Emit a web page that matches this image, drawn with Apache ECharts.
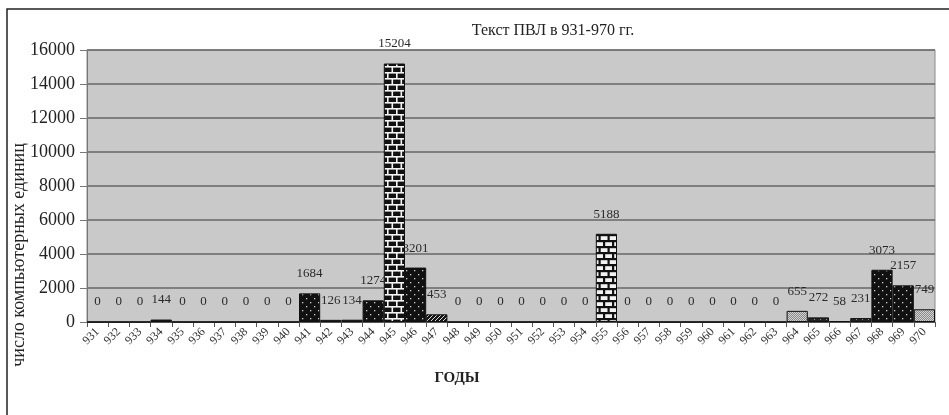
<!DOCTYPE html>
<html><head><meta charset="utf-8">
<script src="https://cdn.jsdelivr.net/npm/echarts@6/dist/echarts.min.js"></script>
<style>html,body{margin:0;padding:0;background:#fff}#c{width:949px;height:415px}</style>
</head><body><div id="c"></div>
<script>
// ---- data ----
const years = ['931','932','933','934','935','936','937','938','939','940',
  '941','942','943','944','945','946','947','948','949','950',
  '951','952','953','954','955','956','957','958','959','960',
  '961','962','963','964','965','966','967','968','969','970'];
const values = [0,0,0,144,0,0,0,0,0,0,
  1684,126,134,1274,15204,3201,453,0,0,0,
  0,0,0,0,5188,0,0,0,0,0,
  0,0,0,655,272,58,231,3073,2157,749];
const yMin = 0, yMax = 16000, yStep = 2000;
const chartTitle = 'Текст ПВЛ в 931-970 гг.';
const yName = 'число компьютерных единиц';
const xName = 'ГОДЫ';

// ---- styles (fill pattern per year) ----
const patternByYear = {
  '934':'solid','941':'dots','942':'solid','943':'solid','944':'dots',
  '945':'brickDark','946':'dots','947':'stripes','955':'brickLight',
  '964':'hatch','965':'darkDots','966':'solid','967':'darkDots',
  '968':'dots','969':'dots','970':'hatch'
};

function makePattern(kind){
  const c = document.createElement('canvas');
  let ctx;
  if (kind === 'brickDark' || kind === 'brickLight') {
    c.width = 18; c.height = 12; ctx = c.getContext('2d');
    const bg = kind === 'brickDark' ? '#111' : '#f2f2f2';
    const fg = kind === 'brickDark' ? '#f4f4f4' : '#111';
    ctx.fillStyle = bg; ctx.fillRect(0,0,18,12);
    ctx.fillStyle = fg;
    const lw = kind === 'brickDark' ? 1.6 : 2.2;
    ctx.fillRect(0,0,18,lw); ctx.fillRect(0,6,18,lw);
    ctx.fillRect(0,0,lw,6); ctx.fillRect(9,0,lw,6);
    ctx.fillRect(4.5,6,lw,6); ctx.fillRect(13.5,6,lw,6);
  } else if (kind === 'dots') {
    c.width = 8; c.height = 8; ctx = c.getContext('2d');
    ctx.fillStyle = '#111'; ctx.fillRect(0,0,8,8);
    ctx.fillStyle = '#cfcfcf';
    ctx.fillRect(2,2,1.3,1.3); ctx.fillRect(6,6,1.3,1.3);
  } else if (kind === 'darkDots') {
    c.width = 6; c.height = 4; ctx = c.getContext('2d');
    ctx.fillStyle = '#222'; ctx.fillRect(0,0,6,4);
    ctx.fillStyle = '#999'; ctx.fillRect(1,1,1,1); ctx.fillRect(4,3,1,1);
  } else if (kind === 'stripes') {
    c.width = 4; c.height = 4; ctx = c.getContext('2d');
    ctx.fillStyle = '#151515'; ctx.fillRect(0,0,4,4);
    ctx.strokeStyle = '#ddd'; ctx.lineWidth = 1;
    ctx.beginPath(); ctx.moveTo(0,4); ctx.lineTo(4,0); ctx.stroke();
  } else if (kind === 'hatch') {
    c.width = 2; c.height = 2; ctx = c.getContext('2d');
    ctx.fillStyle = '#8a8a8a'; ctx.fillRect(0,0,2,2);
    ctx.fillStyle = '#d2d2d2'; ctx.fillRect(0,0,1,1); ctx.fillRect(1,1,1,1);
  } else {
    return '#111';
  }
  return { image: c, repeat: 'repeat' };
}

const serif = '"Liberation Serif", "DejaVu Serif", serif';
const barData = values.map((v, i) => ({
  value: v,
  itemStyle: { color: makePattern(patternByYear[years[i]] || 'solid') }
}));

const chart = echarts.init(document.getElementById('c'));
chart.setOption({
  animation: false,
  backgroundColor: '#fff',
  grid: { left: 87, right: 14, top: 50, bottom: 93, show: true,
          backgroundColor: '#c9c9c9', borderColor: '#8a8a8a', borderWidth: 1 },
  xAxis: {
    type: 'category', data: years,
    axisLine: { lineStyle: { color: '#555', width: 1 } },
    axisTick: { show: true, alignWithLabel: false, length: 5, lineStyle: { color: '#555' } },
    axisLabel: { interval: 0, rotate: 45, margin: 8, fontSize: 12, color: '#333', fontFamily: serif }
  },
  yAxis: {
    type: 'value', min: yMin, max: yMax, interval: yStep,
    axisLine: { show: true, lineStyle: { color: '#777', width: 1 } },
    axisTick: { show: true, length: 7, lineStyle: { color: '#777' } },
    axisLabel: { fontSize: 18, color: '#222', fontFamily: serif, margin: 12,
                 formatter: v => String(v) },
    splitLine: { lineStyle: { color: '#666', width: 1.6 } }
  },
  series: [{
    type: 'bar', data: barData, barCategoryGap: '0%',
    itemStyle: { borderColor: '#111', borderWidth: 1 },
    label: { show: true, position: 'top', distance: 13, fontSize: 13,
             color: '#2a2a2a', fontFamily: serif }
  }],
  graphic: [
    { type: 'rect', shape: { x: 7, y: 9, width: 960, height: 430 },
      style: { fill: 'none', stroke: '#222', lineWidth: 1.5 }, silent: true },
    { type: 'text', x: 553, y: 31,
      style: { text: chartTitle, font: '16px ' + serif, fill: '#222',
               textAlign: 'center', textVerticalAlign: 'middle' } },
    { type: 'text', x: 19, y: 255, rotation: Math.PI / 2,
      style: { text: yName, font: '18px ' + serif, fill: '#222',
               textAlign: 'center', textVerticalAlign: 'middle' } },
    { type: 'text', x: 457, y: 378,
      style: { text: xName, font: 'bold 15px ' + serif, fill: '#222',
               textAlign: 'center', textVerticalAlign: 'middle' } }
  ]
});
</script></body></html>
